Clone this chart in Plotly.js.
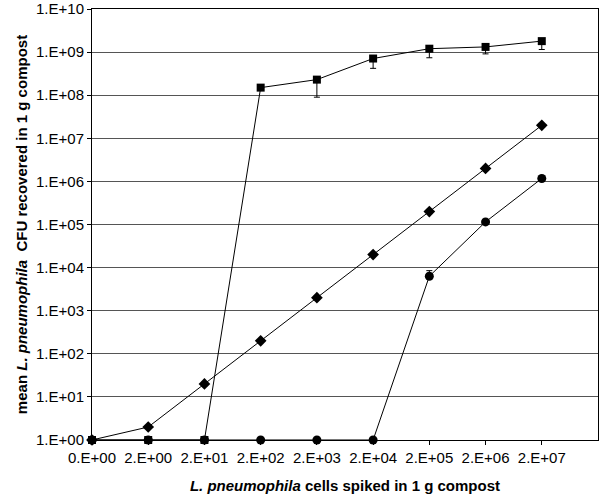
<!DOCTYPE html>
<html>
<head>
<meta charset="utf-8">
<script src="https://cdn.plot.ly/plotly-3.0.1.min.js"></script>
<style>
  html, body { margin: 0; padding: 0; background: #ffffff; }
  #chart { width: 600px; height: 494px; }
</style>
</head>
<body>
<div id="chart"></div>
<script>
// Spiked cell counts (category labels on the x axis)
const spikedLabels = ['0.E+00', '2.E+00', '2.E+01', '2.E+02', '2.E+03', '2.E+04', '2.E+05', '2.E+06', '2.E+07'];

// Square series, with lower error bars
const squareValues = [1, 1, 1, 1.5e8, 2.3e8, 7.1e8, 1.2e9, 1.32e9, 1.8e9];
const squareErrMinus = [0, 0, 0, 0, 1.4e8, 2.9e8, 4.6e8, 4.1e8, 6.5e8];

// Diamond series
const diamondValues = [1, 2, 20, 200, 2000, 2e4, 2e5, 2e6, 2e7];

// Circle series, with small upper error bars
const circleValues = [1, 1, 1, 1, 1, 1, 6.3e3, 1.15e5, 1.17e6];
const circleErrPlus = [0, 0, 0, 0, 0, 0, 2.2e3, 1.5e4, 0];

// Y axis decades
const yTickVals = [1, 1e1, 1e2, 1e3, 1e4, 1e5, 1e6, 1e7, 1e8, 1e9, 1e10];
const yTickText = ['1.E+00', '1.E+01', '1.E+02', '1.E+03', '1.E+04', '1.E+05', '1.E+06', '1.E+07', '1.E+08', '1.E+09', '1.E+10'];

const xIdx = spikedLabels.map((_, i) => i);

const lineStyle = { color: '#000000', width: 1 };

const traces = [
    {
        x: xIdx,
        y: circleValues,
        type: 'scatter',
        mode: 'lines+markers',
        line: lineStyle,
        marker: { symbol: 'circle', size: 9, color: '#000000' },
        error_y: { type: 'data', symmetric: false, array: circleErrPlus, arrayminus: circleValues.map(() => 0), color: '#000000', thickness: 1, width: 3 },
        cliponaxis: false,
    },
    {
        x: xIdx,
        y: diamondValues,
        type: 'scatter',
        mode: 'lines+markers',
        line: lineStyle,
        marker: { symbol: 'diamond', size: 9, color: '#000000' },
        cliponaxis: false,
    },
    {
        x: xIdx,
        y: squareValues,
        type: 'scatter',
        mode: 'lines+markers',
        line: lineStyle,
        marker: { symbol: 'square', size: 8, color: '#000000' },
        error_y: { type: 'data', symmetric: false, array: squareValues.map(() => 0), arrayminus: squareErrMinus, color: '#000000', thickness: 1, width: 3 },
        cliponaxis: false,
    },
];

const layout = {
    width: 600,
    height: 494,
    showlegend: false,
    font: { family: 'Arial, "Liberation Sans", sans-serif', size: 15, color: '#000000' },
    margin: { l: 92, r: 2, t: 9, b: 54 },
    paper_bgcolor: '#ffffff',
    plot_bgcolor: '#ffffff',
    xaxis: {
        range: [0, spikedLabels.length],
        tickvals: xIdx,
        ticktext: spikedLabels,
        ticks: 'outside',
        ticklen: 4,
        tickcolor: '#000000',
        tickfont: { size: 15 },
        ticklabeloverflow: 'allow',
        showgrid: false,
        zeroline: false,
        showline: true,
        linecolor: '#000000',
        linewidth: 1,
        mirror: true,
        title: {
            text: '<i>L. pneumophila</i> cells spiked in 1 g compost',
            font: { size: 15, weight: 'bold' },
            standoff: 15,
        },
    },
    yaxis: {
        type: 'log',
        range: [-0.0005, 10.0005],
        tickvals: yTickVals,
        ticktext: yTickText,
        ticks: 'outside',
        ticklen: 4,
        tickcolor: '#000000',
        tickfont: { size: 15 },
        ticklabeloverflow: 'allow',
        showgrid: true,
        gridcolor: '#555555',
        gridwidth: 1,
        zeroline: false,
        showline: true,
        linecolor: '#000000',
        linewidth: 1,
        mirror: true,
        title: {
            text: 'mean <i>L. pneumophila</i>  CFU recovered in 1 g compost',
            font: { size: 15, weight: 'bold' },
            standoff: 4,
        },
    },
};

Plotly.newPlot('chart', traces, layout, { displayModeBar: false, staticPlot: true });
</script>
</body>
</html>
